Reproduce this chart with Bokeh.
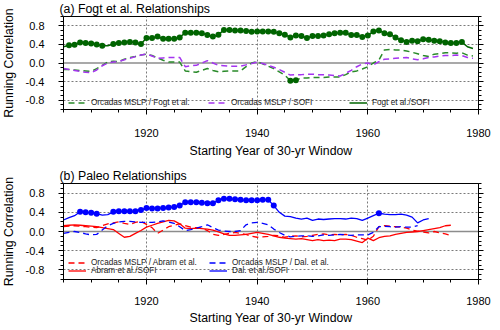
from bokeh.plotting import figure
from bokeh.models import (Range1d, FixedTicker, LinearAxis, Span, Legend, LegendItem,
                          PrintfTickFormatter)
from bokeh.layouts import column
from bokeh.embed import file_html
from bokeh.resources import INLINE

# ---------------- data ----------------
years_a = list(range(1905, 1980))
fogt_sofi = [0.35, 0.38, 0.39, 0.44, 0.43, 0.42, 0.40, 0.37, 0.37, 0.41,
             0.43, 0.44, 0.45, 0.44, 0.41, 0.54, 0.54, 0.57, 0.52, 0.52,
             0.52, 0.55, 0.65, 0.65, 0.65, 0.64, 0.60, 0.57, 0.61, 0.71,
             0.71, 0.70, 0.70, 0.69, 0.67, 0.68, 0.68, 0.68, 0.67, 0.64,
             0.61, 0.55, 0.59, 0.58, 0.54, 0.58, 0.58, 0.59, 0.62, 0.64,
             0.65, 0.65, 0.60, 0.60, 0.56, 0.59, 0.68, 0.70, 0.64, 0.62,
             0.55, 0.49, 0.45, 0.48, 0.47, 0.51, 0.50, 0.48, 0.47, 0.44,
             0.43, 0.43, 0.45, 0.35, 0.31]
fogt_sofi_sig = [y for y in range(1906, 1978) if y != 1913]
orc_fogt = [-0.14, -0.14, -0.15, -0.16, -0.17, -0.18, -0.12, -0.05, 0.02, 0.04,
            0.03, 0.08, 0.12, 0.14, 0.17, 0.19, 0.16, 0.11, 0.06, 0.02,
            0.02, 0.02, -0.17, -0.19, -0.20, -0.16, -0.12, -0.16, -0.19, -0.18,
            -0.17, -0.17, -0.17, -0.08, 0.00, 0.03, -0.02, -0.07, -0.12, -0.19,
            -0.26, -0.38, -0.37, -0.32, -0.32, -0.31, -0.31, -0.31, -0.30, -0.30,
            -0.30, -0.25, -0.19, -0.17, -0.13, -0.08, 0.00, 0.06, 0.28, 0.29,
            0.28, 0.28, 0.26, 0.23, 0.20, 0.16, 0.14, 0.19, 0.20, 0.22,
            0.22, 0.21, 0.22, 0.17, 0.15]
orc_fogt_sig = [1946, 1947]
orc_sofi = [-0.12, -0.14, -0.16, -0.18, -0.20, -0.21, -0.15, -0.06, 0.00, 0.02,
            0.03, 0.07, 0.10, 0.14, 0.17, 0.19, 0.15, 0.10, 0.11, 0.12,
            0.12, 0.12, -0.08, -0.06, -0.05, 0.00, 0.05, 0.00, -0.05, -0.06,
            -0.07, -0.07, -0.07, -0.04, -0.01, 0.02, -0.01, -0.05, -0.09, -0.14,
            -0.20, -0.26, -0.25, -0.25, -0.24, -0.24, -0.25, -0.25, -0.26, -0.27,
            -0.28, -0.22, -0.16, -0.08, -0.02, 0.00, -0.04, 0.03, 0.08, 0.09,
            0.10, 0.11, 0.12, 0.09, 0.07, 0.09, 0.12, 0.13, 0.15, 0.16,
            0.16, 0.17, 0.16, 0.12, 0.10]

years_dal = list(range(1905, 1972))
dal_sofi = [0.24, 0.29, 0.33, 0.41, 0.40, 0.39, 0.37, 0.34, 0.35, 0.41,
            0.42, 0.42, 0.42, 0.42, 0.45, 0.49, 0.48, 0.48, 0.49, 0.50,
            0.51, 0.54, 0.61, 0.61, 0.61, 0.60, 0.59, 0.59, 0.65, 0.68,
            0.68, 0.67, 0.66, 0.65, 0.65, 0.65, 0.66, 0.66, 0.54, 0.40,
            0.32, 0.31, 0.28, 0.26, 0.28, 0.23, 0.26, 0.25, 0.26, 0.27,
            0.27, 0.26, 0.28, 0.27, 0.23, 0.28, 0.33, 0.38, 0.36, 0.35,
            0.35, 0.36, 0.34, 0.30, 0.18, 0.24, 0.27]
dal_sofi_sig = [1908, 1909, 1910, 1911] + list(range(1914, 1944)) + [1962]
years_orc_dal = list(range(1905, 1970))
orc_dal = [-0.04, -0.02, 0.00, -0.02, -0.05, -0.07, -0.06, 0.03, 0.12, 0.17,
           0.20, 0.21, 0.21, 0.20, 0.19, 0.19, 0.19, 0.20, 0.22, 0.20,
           0.17, 0.10, 0.02, 0.04, 0.07, 0.10, 0.14, 0.08, 0.03, 0.01,
           0.00, 0.00, 0.02, 0.14, 0.18, 0.19, 0.17, 0.14, 0.05, -0.02,
           -0.08, -0.11, -0.10, -0.09, -0.09, -0.10, -0.09, -0.07, -0.08, -0.07,
           -0.06, -0.07, -0.08, -0.07, -0.07, -0.07, -0.02, 0.10, 0.11, 0.10,
           0.09, 0.10, 0.09, 0.09, 0.12]
years_abram = list(range(1905, 1976))
abram_sofi = [0.12, 0.13, 0.14, 0.13, 0.12, 0.11, 0.10, 0.08, 0.06, 0.04,
              -0.04, -0.12, -0.10, -0.04, 0.02, 0.09, 0.13, 0.17, 0.20, 0.23,
              0.22, 0.16, 0.07, 0.06, 0.07, 0.06, 0.05, 0.03, -0.01, -0.05,
              -0.08, -0.08, -0.07, -0.06, -0.04, -0.02, -0.04, -0.06, -0.09, -0.12,
              -0.14, -0.15, -0.16, -0.15, -0.17, -0.19, -0.17, -0.19, -0.18, -0.19,
              -0.16, -0.16, -0.17, -0.20, -0.23, -0.14, -0.19, -0.13, -0.10, -0.09,
              -0.06, -0.04, -0.02, -0.01, 0.00, 0.02, 0.04, 0.06, 0.08, 0.12, 0.13]
orc_abram = [0.10, 0.11, 0.12, 0.11, 0.10, 0.09, 0.08, 0.12, 0.16, 0.18,
             0.20, 0.17, 0.15, 0.19, 0.21, 0.15, 0.08, -0.04, 0.03, 0.10,
             0.13, 0.16, 0.12, 0.09, 0.08, 0.07, 0.02, -0.06, -0.08, -0.06,
             -0.04, -0.02, -0.04, -0.06, -0.10, -0.12, -0.11, -0.10, -0.08, -0.09,
             -0.12, -0.10, -0.09, -0.11, -0.10, -0.08, -0.06, -0.05, -0.07, -0.06,
             -0.07, -0.06, -0.08, -0.12, -0.15, -0.18, -0.10, 0.10, 0.12, 0.11,
             0.10, 0.09, 0.07, 0.03, 0.01, -0.01, -0.03, 0.00, -0.03, -0.05, -0.08]

x_major = [1920, 1940, 1960, 1980]
x_minor = [1905, 1910, 1915, 1925, 1930, 1935, 1945, 1950, 1955, 1965, 1970, 1975]
x_grid = [1920, 1940, 1960]
y_major = [-0.8, -0.4, 0.0, 0.4, 0.8]
y_minor = [-1.0, -0.9, -0.7, -0.6, -0.5, -0.3, -0.2, -0.1, 0.1, 0.2, 0.3, 0.5, 0.6, 0.7, 0.9, 1.0]
y_grid = [-0.8, -0.4, 0.4, 0.8]

FONT = "Liberation Sans"
W = 496
GREEN = "#006400"
GREEN_D = "#2a8a2a"
PURPLE = "#a535f0"
BLUE = "#0000ff"
RED = "#ff0000"
DASH = "6 4"


def make_panel(title, height, btop, bbottom, lab_standoff, axlab_standoff):
    p = figure(width=W, height=height, x_range=Range1d(1905, 1980), y_range=Range1d(-1, 1),
               output_backend="svg", toolbar_location=None,
               min_border_left=60, min_border_right=16, min_border_top=btop,
               min_border_bottom=bbottom, title=title,
               x_axis_label="Starting Year of 30-yr Window", y_axis_label="Running Correlation")
    p.background_fill_color = "white"
    p.border_fill_color = "white"
    p.outline_line_color = "black"
    p.outline_line_width = 1
    p.title.text_font = FONT
    p.title.text_font_size = "12.3px"
    p.title.text_font_style = "normal"
    p.title.align = "left"
    p.title.offset = -4
    p.title.standoff = 1
    p.title.text_color = "black"

    for ax in (p.xaxis[0], p.yaxis[0]):
        ax.major_label_text_font = FONT
        ax.major_label_text_font_size = "11px"
        ax.major_label_text_color = "black"
        ax.axis_label_text_font = FONT
        ax.axis_label_text_font_size = "12.3px"
        ax.axis_label_text_font_style = "normal"
        ax.axis_label_text_color = "black"
        ax.major_tick_out = 5
        ax.major_tick_in = 0
        ax.minor_tick_out = 3
        ax.minor_tick_in = 0
        ax.axis_line_color = "black"
        ax.major_tick_line_color = "black"
        ax.minor_tick_line_color = "black"
    p.xaxis[0].ticker = FixedTicker(ticks=x_major, minor_ticks=x_minor)
    p.yaxis[0].ticker = FixedTicker(ticks=y_major, minor_ticks=y_minor)
    p.yaxis[0].formatter = PrintfTickFormatter(format="%.1f")
    p.xaxis[0].major_label_standoff = lab_standoff
    p.yaxis[0].major_label_standoff = 14
    p.xaxis[0].axis_label_standoff = axlab_standoff
    p.yaxis[0].axis_label_standoff = 7

    rax = LinearAxis(ticker=FixedTicker(ticks=y_major, minor_ticks=y_minor),
                     major_label_text_font_size="1px", major_label_text_color=None,
                     major_label_standoff=0,
                     major_tick_out=5, major_tick_in=0, minor_tick_out=3, minor_tick_in=0,
                     axis_line_color="black")
    p.add_layout(rax, "right")

    p.xgrid.ticker = FixedTicker(ticks=x_grid)
    p.ygrid.ticker = FixedTicker(ticks=y_grid)
    for g in (p.xgrid[0], p.ygrid[0]):
        g.grid_line_color = "#7a7a7a"
        g.grid_line_dash = "2 2"
        g.grid_line_width = 1
    p.add_layout(Span(location=0, dimension="width", line_color="#8c8c8c",
                      line_width=1.6, level="underlay"))
    return p


def add_legend(p, label, r, x, y):
    lg = Legend(items=[LegendItem(label=label, renderers=[r])], location=(x, y),
                orientation="vertical", padding=0, margin=0, spacing=0,
                glyph_width=18, glyph_height=9, label_height=9, label_standoff=5,
                label_text_font=FONT, label_text_font_size="8.2px",
                label_text_color="#222222", label_text_baseline="middle",
                background_fill_alpha=0, border_line_alpha=0)
    p.add_layout(lg, "center")


# ---------------- panel (a) ----------------
pa = make_panel("(a) Fogt et al. Relationships", 164, 14, 54, 14, 4)
r_of = pa.line(years_a, orc_fogt, line_color=GREEN_D, line_width=1.5, line_dash=DASH)
r_os = pa.line(years_a, orc_sofi, line_color=PURPLE, line_width=1.5, line_dash=DASH)
r_fs = pa.line(years_a, fogt_sofi, line_color=GREEN, line_width=1.5)
pa.scatter(fogt_sofi_sig, [fogt_sofi[years_a.index(y)] for y in fogt_sofi_sig],
           size=6, fill_color=GREEN, line_color=None)
pa.scatter(orc_fogt_sig, [orc_fogt[years_a.index(y)] for y in orc_fogt_sig],
           size=6, fill_color=GREEN, line_color=None)
add_legend(pa, "Orcadas MSLP / Fogt et al.", r_of, 5, 2)
add_legend(pa, "Orcadas MSLP / SOFI", r_os, 145, 2)
add_legend(pa, "Fogt et al./SOFI", r_fs, 286, 2)

# ---------------- panel (b) ----------------
pb = make_panel("(b) Paleo Relationships", 164, 20, 48, 12, 3)
r_oa = pb.line(years_abram, orc_abram, line_color=RED, line_width=1.3, line_dash=DASH)
r_as = pb.line(years_abram, abram_sofi, line_color=RED, line_width=1.3)
r_od = pb.line(years_orc_dal, orc_dal, line_color=BLUE, line_width=1.3, line_dash=DASH)
r_ds = pb.line(years_dal, dal_sofi, line_color=BLUE, line_width=1.3)
pb.scatter(dal_sofi_sig, [dal_sofi[years_dal.index(y)] for y in dal_sofi_sig],
           size=6, fill_color=BLUE, line_color=None)
add_legend(pb, "Orcadas MSLP / Abram et al.", r_oa, 5, 12)
add_legend(pb, "Abram et al./SOFI", r_as, 5, 4)
add_legend(pb, "Orcadas MSLP / Dal. et al.", r_od, 146, 12)
add_legend(pb, "Dal. et al./SOFI", r_ds, 146, 4)

layout = column(pa, pb, margin=(-1, 0, -8, -2))

with open("out.html", "w") as f:
    f.write(file_html(layout, INLINE))
